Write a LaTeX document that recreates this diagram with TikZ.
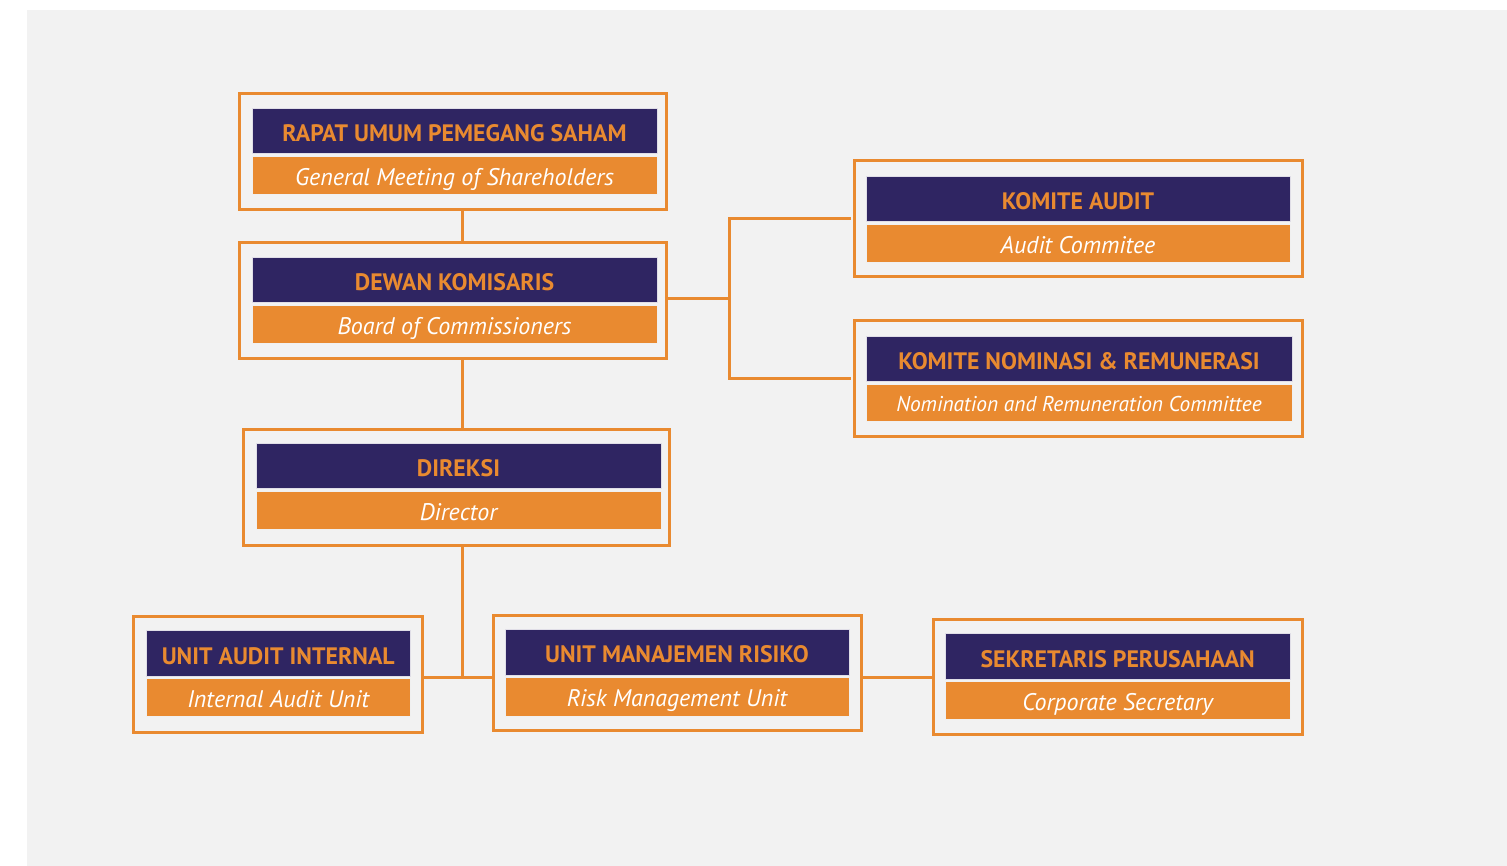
\documentclass[tikz,border=0pt]{standalone}
\usepackage{fontspec}
\setmainfont{PT Sans}
\definecolor{navy}{HTML}{2F2562}
\definecolor{amber}{HTML}{E98A30}
\definecolor{paper}{HTML}{F2F2F2}
\begin{document}
\begin{tikzpicture}[x=1pt,y=-1pt,
  frame/.style={draw=amber, line width=3pt, fill=paper, minimum height=116pt, inner sep=0pt},
  titlebar/.style={fill=navy, draw=white!85!navy, line width=0.8pt, text=amber,
    font=\bfseries\fontsize{23.8}{24}\selectfont, minimum height=45pt, inner sep=0pt,
    text height=21.5pt, text depth=0pt},
  subbar/.style={fill=amber, draw=white!88!gray, line width=0.8pt, text=white,
    font=\itshape\fontsize{24}{24}\selectfont, minimum height=38pt, inner sep=0pt,
    text height=20.5pt, text depth=0pt},
  link/.style={draw=amber, line width=3pt}]
% canvas
\useasboundingbox (0,0) rectangle (1507,866);
\fill[white] (0,0) rectangle (1507,866);
\fill[paper] (27,10) rectangle (1507,866);

% General Meeting of Shareholders
\node[frame, minimum width=426.6pt] (f1) at (453,151.6) {};
\node[titlebar, minimum width=405pt] (t1) at (454.5,130.5) {RAPAT UMUM PEMEGANG SAHAM};
\node[subbar, minimum width=405pt] (s1) at (454.5,175) {General Meeting of Shareholders};

% Board of Commissioners
\node[frame, minimum width=426.6pt] (f2) at (453,300.5) {};
\node[titlebar, minimum width=405pt] (t2) at (454.5,279.5) {DEWAN KOMISARIS};
\node[subbar, minimum width=405pt] (s2) at (454.5,324) {Board of Commissioners};

% Director
\node[frame, minimum width=426.6pt] (f3) at (456.5,487) {};
\node[titlebar, minimum width=405pt] (t3) at (458.5,465.5) {DIREKSI};
\node[subbar, minimum width=405pt] (s3) at (458.5,510) {Director};

% Audit Committee
\node[frame, minimum width=448pt] (f4) at (1078.5,219) {};
\node[titlebar, minimum width=424pt] (t4) at (1078,198.5) {KOMITE AUDIT};
\node[subbar, minimum width=424pt] (s4) at (1078,243) {Audit Commitee};

% Nomination and Remuneration Committee
\node[frame, minimum width=448pt, minimum height=115pt] (f5) at (1078.5,378.5) {};
\node[titlebar, minimum width=426pt] (t5) at (1079,358.5) {KOMITE NOMINASI \& REMUNERASI};
\node[subbar, minimum width=426pt, minimum height=37pt, font=\itshape\fontsize{21.4}{22}\selectfont,
  text height=18pt] (s5) at (1079,402.5) {Nomination and Remuneration Committee};

% Internal Audit Unit
\node[frame, minimum width=289pt] (f6) at (278.2,674.5) {};
\node[titlebar, minimum width=263.7pt, minimum height=46pt] (t6) at (278.2,653.7) {UNIT AUDIT INTERNAL};
\node[subbar, minimum width=263.7pt] (s6) at (278.2,697.7) {Internal Audit Unit};

% Risk Management Unit
\node[frame, minimum width=368pt, minimum height=115pt] (f7) at (677.5,673) {};
\node[titlebar, minimum width=344pt, minimum height=46pt] (t7) at (677,652) {UNIT MANAJEMEN RISIKO};
\node[subbar, minimum width=344pt, minimum height=39pt] (s7) at (677,696.5) {Risk Management Unit};

% Corporate Secretary
\node[frame, minimum width=369pt, minimum height=115.6pt] (f8) at (1118.2,676.8) {};
\node[titlebar, minimum width=344.7pt, minimum height=46pt] (t8) at (1117.7,656.3) {SEKRETARIS PERUSAHAAN};
\node[subbar, minimum width=344.7pt] (s8) at (1117.7,700.2) {Corporate Secretary};

% connectors
\coordinate (tee) at (462,677);
\coordinate (hub) at (729,299);
\draw[link] (f1.south -| tee) -- (f2.north -| tee);
\draw[link] (f2.south -| tee) -- (f3.north -| tee);
\draw[link] (f3.south -| tee) -- (tee);
\draw[link] (f6.east |- tee) -- (f7.west |- tee);
\draw[link] (f7.east |- tee) -- (f8.west |- tee);
\draw[link] ([xshift=-3pt]f2.east |- hub) -- (hub);
\draw[link] ([xshift=-2pt]f4.west) -| (hub) |- ([xshift=-2pt]f5.west);
\end{tikzpicture}
\end{document}
